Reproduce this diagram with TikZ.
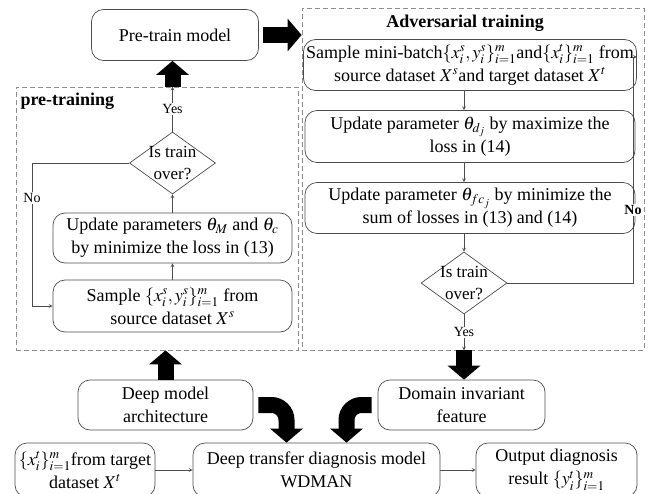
\documentclass[tikz,border=0pt]{standalone}
\usepackage{amsmath}
\usepackage{mathptmx}
\usepackage{fontspec}
\setmainfont{Liberation Serif}
\usetikzlibrary{shapes,arrows,arrows.meta}
\tikzstyle{box} = [rectangle, rounded corners=12pt, draw=black!70, line width=0.7pt, align=center, inner sep=2pt]
\tikzstyle{decision} = [diamond, draw=black!70, line width=0.7pt, minimum width=86pt, minimum height=62pt, inner sep=0pt]
\tikzstyle{frame} = [rectangle, draw=black!45, dash pattern=on 5pt off 3pt, line width=0.8pt]
\tikzstyle{arrow} = [->,>=stealth, draw=black!70, line width=0.7pt]
\tikzstyle{bigarrow} = [line width=16pt, -{Triangle[length=14pt,width=32pt]}, black]
\tikzstyle{small} = [font=\fontsize{14}{16}\selectfont, fill=white, inner sep=1pt]

\begin{document}
\begin{tikzpicture}[x=1pt, y=-1pt, font=\fontsize{18}{23}\selectfont, node distance=71.5pt]
    \useasboundingbox (0,0) rectangle (653,493);

    % dashed frames
    \node (preframe) [frame, minimum width=282pt, minimum height=263pt] at (157,218.5) {};
    \node (advframe) [frame, minimum width=342pt, minimum height=342pt] at (473,179) {};
    \node (pretitle) [anchor=west, font=\fontsize{18}{23}\selectfont\bfseries] at (17,101) {pre-training};
    \node (advtitle) [font=\fontsize{18}{23}\selectfont\bfseries] at (465,23) {Adversarial training};

    % pre-training
    \node (pm) [box, minimum width=167pt, minimum height=51pt] at (175,35) {Pre-train model};
    \node (pd) [decision, label={[align=center, inner sep=0pt, font=\fontsize{17}{22}\selectfont]center:Is train\\over?}] at (172.5,163) {};
    \node (pu) [box, minimum width=239pt, minimum height=50pt] at (172.5,238) {Update parameters $\theta_M$ and $\theta_c$\\by minimize the loss in (13)};
    \node (ps) [box, minimum width=239pt, minimum height=52pt] at (172.5,306) {Sample $\{x_i^s, y_i^s\}_{i=1}^m$ from\\source dataset $X^s$};

    \draw [arrow] (ps) -- (pu);
    \draw [arrow] (pu) -- (pd);
    \draw [arrow] (pd.north) -- node [small] {Yes} (pd.north |- preframe.north);
    \coordinate (noleft) at (32,163);
    \draw [arrow] (pd.west) -- (noleft) |- (ps.west);
    \node (pno) [small] at (32,198) {No};
    \draw [bigarrow] (pd |- preframe.north) -- (pd |- pm.south);
    \draw [bigarrow] ([xshift=4pt]pm.east) -- (pm.east -| advframe.west);

    % adversarial training
    \node (a1) [box, minimum width=333pt, minimum height=51pt] at (470,65) {Sample mini-batch$\{x_i^s, y_i^s\}_{i=1}^m$and$\{x_i^t\}_{i=1}^m$ from\\source dataset $X^s$and target dataset $X^t$};
    \node (a2) [box, below of=a1, minimum width=330pt, minimum height=52pt] {Update parameter $\theta_{d_j}$ by maximize the\\loss in (14)};
    \node (a3) [box, below of=a2, minimum width=330pt, minimum height=51pt] {Update parameter $\theta_{fc_j}$ by minimize the\\sum of losses in (13) and (14)};
    \node (ad) [decision, label={[align=center, inner sep=0pt, font=\fontsize{17}{22}\selectfont]center:Is train\\over?}] at (464,283) {};

    \draw [arrow] (a1.south -| ad) -- (a2.north -| ad);
    \draw [arrow] (a2.south -| ad) -- (a3.north -| ad);
    \draw [arrow] (a3.south -| ad) -- (ad.north);
    \draw [arrow] (ad.south) -- node [small] {Yes} (ad |- advframe.south);
    \coordinate (noright) at (633,283);
    \draw [arrow] (ad.east) -- (noright) |- ([yshift=8pt]a1.east);
    \node (ano) [small, font=\fontsize{14}{16}\selectfont\bfseries] at (633,210) {No};

    % bottom row
    \node (arch) [box, minimum width=175pt, minimum height=50pt] at (165.5,405) {Deep model\\architecture};
    \node (dom) [box, minimum width=167pt, minimum height=50pt] at (461.5,405) {Domain invariant\\feature};
    \node (tgt) [box, minimum width=140pt, minimum height=54pt] at (85,470) {$\{x_i^t\}_{i=1}^m$from target\\dataset $X^t$};
    \node (wd) [box, minimum width=247pt, minimum height=54pt] at (316.5,470) {Deep transfer diagnosis model\\WDMAN};
    \node (out) [box, minimum width=161pt, minimum height=54pt] at (556.5,470) {Output diagnosis\\result $\{y_i^t\}_{i=1}^m$};

    \draw [bigarrow] (arch.north) -- (arch.north |- preframe.south);
    \draw [bigarrow] (ad |- advframe.south) -- (ad |- dom.north);
    \draw [bigarrow, rounded corners=15pt] ([xshift=5pt]arch.east) -| ([xshift=-30pt]wd.north);
    \draw [bigarrow, rounded corners=15pt] ([xshift=-6pt]dom.west) -| ([xshift=30pt]wd.north);
    \draw [arrow] (tgt) -- (wd);
    \draw [arrow] (wd) -- (out);
\end{tikzpicture}
\end{document}
